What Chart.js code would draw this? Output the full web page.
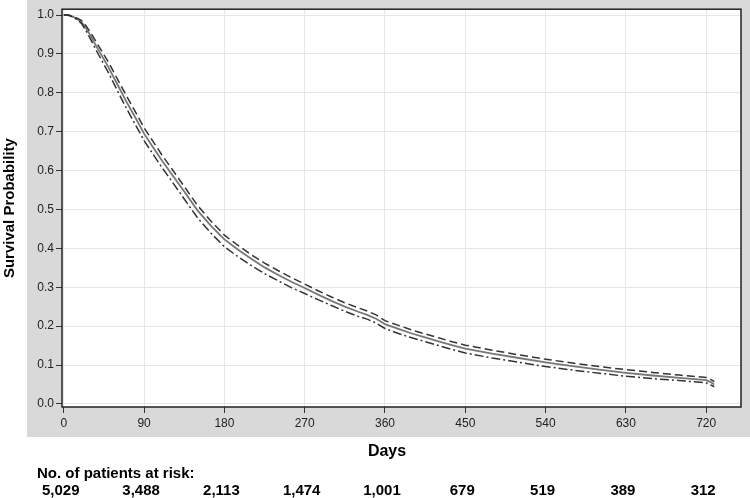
<!DOCTYPE html>
<html>
<head>
<meta charset="utf-8">
<script src="https://cdn.jsdelivr.net/npm/chart.js@4.4.1/dist/chart.umd.min.js"></script>
<style>
	html, body { margin: 0; padding: 0; background: #fff; }
	#wrap { width: 750px; height: 498px; }
</style>
</head>
<body>
<div id="wrap"><canvas id="km" width="750" height="498"></canvas></div>
<script>
// Days from start of follow-up
var days = [0, 5, 10, 15, 20, 25, 30, 35, 40, 50, 60, 70, 80, 90, 100, 110, 120, 135, 150, 165,
	180, 195, 210, 225, 240, 255, 270, 285, 300, 315, 330, 340, 350, 360, 375, 390, 405, 420, 435,
	450, 480, 510, 540, 570, 600, 630, 660, 690, 720, 725, 729];

// Kaplan-Meier estimate (solid)
var survival = [1.000, 1.000, 0.996, 0.990, 0.982, 0.966, 0.947, 0.926, 0.906, 0.866, 0.822, 0.778, 0.737, 0.695, 0.660, 0.626, 0.594, 0.546, 0.497, 0.458,
	0.423, 0.397, 0.373, 0.351, 0.332, 0.314, 0.298, 0.281, 0.265, 0.250, 0.237, 0.229, 0.219, 0.205, 0.193, 0.181, 0.171, 0.161, 0.151,
	0.142, 0.129, 0.118, 0.107, 0.097, 0.088, 0.080, 0.073, 0.067, 0.061, 0.056, 0.050];

// Upper confidence limit (dashed)
var upperCI = [1.000, 1.000, 0.997, 0.992, 0.986, 0.972, 0.955, 0.936, 0.917, 0.879, 0.836, 0.793, 0.752, 0.710, 0.675, 0.640, 0.608, 0.559, 0.510, 0.470,
	0.434, 0.408, 0.384, 0.362, 0.343, 0.325, 0.308, 0.291, 0.275, 0.260, 0.247, 0.239, 0.229, 0.214, 0.202, 0.190, 0.180, 0.170, 0.160,
	0.151, 0.138, 0.126, 0.115, 0.105, 0.096, 0.088, 0.081, 0.074, 0.068, 0.063, 0.057];

// Lower confidence limit (dash-dot)
var lowerCI = [1.000, 1.000, 0.995, 0.988, 0.978, 0.959, 0.938, 0.915, 0.894, 0.852, 0.806, 0.761, 0.719, 0.677, 0.642, 0.608, 0.576, 0.527, 0.478, 0.439,
	0.404, 0.379, 0.356, 0.335, 0.317, 0.299, 0.284, 0.268, 0.253, 0.238, 0.225, 0.218, 0.208, 0.194, 0.181, 0.170, 0.160, 0.150, 0.140,
	0.131, 0.118, 0.107, 0.096, 0.087, 0.079, 0.071, 0.065, 0.060, 0.054, 0.049, 0.044];

// Number at risk table
var riskDays = [0, 90, 180, 270, 360, 450, 540, 630, 720];
var atRisk = ["5,029", "3,488", "2,113", "1,474", "1,001", "679", "519", "389", "312"];

var FONT = "'Liberation Sans', Arial, Helvetica, sans-serif";

function toPoints( ys ) {
	var pts = [];
	for ( var i = 0; i < days.length; i++ ) {
		pts.push( {x: days[i], y: ys[i]} );
	}
	return pts;
}

// gray panel behind the white plot area, box border, titles and risk table
var framePlugin = {
	id: "frame",
	beforeDraw: function( chart ) {
		var ctx = chart.ctx, a = chart.chartArea;
		ctx.save();
		ctx.fillStyle = "#d9d9d9";
		ctx.fillRect( 27, 0, 723, 437 );
		ctx.fillStyle = "#ffffff";
		ctx.fillRect( a.left, a.top, a.right - a.left, a.bottom - a.top );
		ctx.restore();
	},
	afterDraw: function( chart ) {
		var ctx = chart.ctx, a = chart.chartArea, xs = chart.scales.x;
		ctx.save();
		ctx.strokeStyle = "#222";
		ctx.lineWidth = 1.5;
		ctx.strokeRect( a.left, a.top, a.right - a.left, a.bottom - a.top );

		ctx.fillStyle = "#000";
		ctx.textBaseline = "middle";

		// y title
		ctx.save();
		ctx.translate( 10, ( a.top + a.bottom ) / 2 );
		ctx.rotate( -Math.PI / 2 );
		ctx.textAlign = "center";
		ctx.font = "bold 15px " + FONT;
		ctx.fillText( "Survival Probability", 0, 0 );
		ctx.restore();

		// x title
		ctx.textAlign = "center";
		ctx.font = "bold 16px " + FONT;
		ctx.fillText( "Days", 387, 452 );

		// risk table
		ctx.textAlign = "left";
		ctx.font = "bold 15px " + FONT;
		ctx.fillText( "No. of patients at risk:", 37, 474 );
		ctx.textAlign = "center";
		for ( var i = 0; i < riskDays.length; i++ ) {
			ctx.fillText( atRisk[i], xs.getPixelForValue( riskDays[i] ) - 3, 491 );
		}
		ctx.restore();
	}
};

new Chart( document.getElementById( "km" ), {
	type: "line",
	data: {
		datasets: [
			{
				label: "Upper limit",
				data: toPoints( upperCI ),
				borderColor: "#333",
				borderWidth: 1.5,
				borderDash: [8, 4],
				pointRadius: 0,
				fill: false
			},
			{
				label: "Lower limit",
				data: toPoints( lowerCI ),
				borderColor: "#333",
				borderWidth: 1.5,
				borderDash: [9, 3, 2, 3],
				pointRadius: 0,
				fill: false
			},
			{
				label: "Survival",
				data: toPoints( survival ),
				borderColor: "#777",
				borderWidth: 1.8,
				pointRadius: 0,
				fill: false
			}
		]
	},
	options: {
		responsive: false,
		animation: false,
		devicePixelRatio: 1,
		layout: {padding: {left: 0, top: 6, right: 9, bottom: 61}},
		plugins: {legend: {display: false}, tooltip: {enabled: false}},
		scales: {
			x: {
				type: "linear",
				min: -2,
				max: 759,
				afterFit: function( s ) { s.height = 30; },
				grid: {color: "#e6e6e6", tickColor: "#333", tickLength: 6, drawTicks: true},
				border: {display: false},
				ticks: {
					stepSize: 90,
					includeBounds: false,
					maxRotation: 0,
					autoSkip: false,
					padding: 3,
					color: "#222",
					font: {family: FONT, size: 12}
				}
			},
			y: {
				min: -0.008,
				max: 1.015,
				afterFit: function( s ) { s.width = 62; },
				grid: {color: "#e6e6e6", tickColor: "#333", tickLength: 6},
				border: {display: false},
				ticks: {
					stepSize: 0.1,
					includeBounds: false,
					padding: 2,
					color: "#222",
					font: {family: FONT, size: 12},
					callback: function( v ) { return v.toFixed( 1 ); }
				}
			}
		}
	},
	plugins: [framePlugin]
} );
</script>
</body>
</html>
